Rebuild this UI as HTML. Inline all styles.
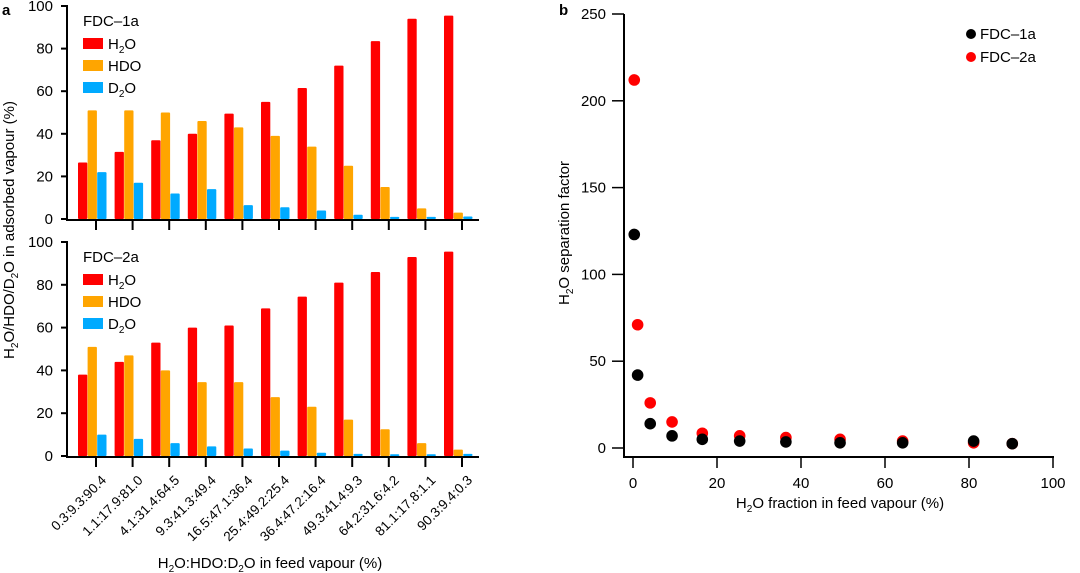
<!DOCTYPE html>
<html><head><meta charset="utf-8"><style>
body{margin:0;background:#fff;}
svg{display:block;font-family:"Liberation Sans",Arial,sans-serif;}
</style></head><body>
<svg id="chart" width="1080" height="573" viewBox="0 0 1080 573" xmlns="http://www.w3.org/2000/svg">
<g id="pa"></g>
<g id="pb"></g>
</svg>
<script>
const categories=["0.3:9.3:90.4","1.1:17.9:81.0","4.1:31.4:64.5","9.3:41.3:49.4","16.5:47.1:36.4","25.4:49.2:25.4","36.4:47.2:16.4","49.3:41.4:9.3","64.2:31.6:4.2","81.1:17.8:1.1","90.3:9.4:0.3"];
const h2o1=[26.5,31.5,37,40,49.5,55,61.5,72,83.5,94,95.5];
const hdo1=[51,51,50,46,43,39,34,25,15,5,3];
const d2o1=[22,17,12,14,6.5,5.5,4,2,1,1,1.2];
const h2o2=[38,44,53,60,61,69,74.5,81,86,93,95.5];
const hdo2=[51,47,40,34.5,34.5,27.5,23,17,12.5,6,3];
const d2o2=[10,8,6,4.5,3.5,2.5,1.5,1,0.8,0.8,1];
const yTicksA=[0,20,40,60,80,100];
const feedX=[0.3,1.1,4.1,9.3,16.5,25.4,36.4,49.3,64.2,81.1,90.3];
const sf1=[123,42,14,7,5,4,3.5,3,3,4,2.5];
const sf2=[212,71,26,15,8.5,7,6,5,4,3,2.5];
const yTicksB=[0,50,100,150,200,250];
const xTicksB=[0,20,40,60,80,100];

const NS="http://www.w3.org/2000/svg";
function mk(p,tag,at,txt){const e=document.createElementNS(NS,tag);for(const k in at)e.setAttribute(k,at[k]);if(txt!==undefined)e.textContent=txt;p.appendChild(e);return e;}
const colors=["#ff0000","#ffa500","#00aaff"];

const pa=document.getElementById('pa');
const axisXA=67, tick0=96, tickStep=36.6;
const xCat=i=>tick0+i*tickStep;
function drawSub(top0,zero,series,name){
  const ys=v=>zero-(v/100)*(zero-top0);
  const g=mk(pa,'g',{});
  
  
  yTicksA.forEach(t=>{
    const l=mk(g,'line',{x1:axisXA-6,x2:axisXA,y1:ys(t),y2:ys(t),stroke:'#000','stroke-width':2});
    
    const tx=mk(g,'text',{x:axisXA-14,y:ys(t)+5,'text-anchor':'end','font-size':15},t);
    
  });
  series.forEach((s,si)=>{
    s.forEach((v,i)=>{
      const r=mk(g,'rect',{x:xCat(i)-18+si*9.6,y:ys(v),width:9.3,height:zero-ys(v),fill:colors[si],rx:1});
      
      
    });
  });
  mk(g,'line',{x1:axisXA,x2:axisXA,y1:top0-1,y2:zero+2,stroke:'#000','stroke-width':2});
  mk(g,'line',{x1:axisXA-1,x2:479,y1:zero+1,y2:zero+1,stroke:'#000','stroke-width':2});
  categories.forEach((c,i)=>{mk(g,'line',{x1:xCat(i),x2:xCat(i),y1:zero+1,y2:zero+11,stroke:'#000','stroke-width':2});});
  const lt=mk(g,'text',{x:83,y:top0+20,'font-size':15},name==='fdc-1a'?'FDC\u20131a':'FDC\u20132a');
  
  const labs=[['H','2','O'],['HDO'],['D','2','O']];
  labs.forEach((lb,k)=>{
    const y=top0+32+k*22;
    const r=mk(g,'rect',{x:83,y:y,width:20,height:11,fill:colors[k]});
    
    const t=mk(g,'text',{x:108,y:y+11,'font-size':15});
    
    if(lb.length===1)t.textContent=lb[0];else{mk(t,'tspan',{},lb[0]);mk(t,'tspan',{'font-size':10,dy:4},lb[1]);mk(t,'tspan',{dy:-4},lb[2]);}
  });
}
drawSub(6,219,[h2o1,hdo1,d2o1],'fdc-1a');
drawSub(242,456,[h2o2,hdo2,d2o2],'fdc-2a');
categories.forEach((c,i)=>{
  const ax=xCat(i)+11, ay=481;
  const t=mk(pa,'text',{x:ax,y:ay,'font-size':13.5,'text-anchor':'end',transform:`rotate(-45 ${ax} ${ay})`},c);
  
});
let t=mk(pa,'text',{x:270,y:568,'font-size':15,'text-anchor':'middle'});

mk(t,'tspan',{},'H');mk(t,'tspan',{'font-size':10,dy:4},'2');mk(t,'tspan',{dy:-4},'O:HDO:D');mk(t,'tspan',{'font-size':10,dy:4},'2');mk(t,'tspan',{dy:-4},'O in feed vapour (%)');
t=mk(pa,'text',{x:14,y:230,'font-size':15,'text-anchor':'middle',transform:'rotate(-90 14 230)'});

mk(t,'tspan',{},'H');mk(t,'tspan',{'font-size':10,dy:4},'2');mk(t,'tspan',{dy:-4},'O/HDO/D');mk(t,'tspan',{'font-size':10,dy:4},'2');mk(t,'tspan',{dy:-4},'O in adsorbed vapour (%)');
t=mk(pa,'text',{x:2,y:15,'font-size':15,'font-weight':'bold'},'a');


const pb=document.getElementById('pb');
const xs=v=>633+v*4.2, ysb=v=>448-v*434/250;
mk(pb,'line',{x1:624,x2:624,y1:14,y2:458,stroke:'#000','stroke-width':2});
mk(pb,'line',{x1:623,x2:1054,y1:457,y2:457,stroke:'#000','stroke-width':2});
yTicksB.forEach(v=>{
  mk(pb,'line',{x1:612,x2:624,y1:ysb(v),y2:ysb(v),stroke:'#000','stroke-width':1.5});
  const e=mk(pb,'text',{x:606,y:ysb(v)+5,'text-anchor':'end','font-size':15},v);
  
});
xTicksB.forEach(v=>{
  mk(pb,'line',{x1:xs(v),x2:xs(v),y1:457,y2:468,stroke:'#000','stroke-width':1.5});
  const e=mk(pb,'text',{x:xs(v),y:488,'text-anchor':'middle','font-size':15},v);
  
});
feedX.forEach((x,i)=>{
  const c=mk(pb,'circle',{cx:xs(x),cy:ysb(sf2[i]),r:5.8,fill:'#ff0000'});
  
});
feedX.forEach((x,i)=>{
  const c=mk(pb,'circle',{cx:xs(x),cy:ysb(sf1[i]),r:5.8,fill:'#000'});
  
});
[['#000','FDC\u20131a',34],['#ff0000','FDC\u20132a',57]].forEach(([col,lb,y])=>{
  const c=mk(pb,'circle',{cx:971,cy:y,r:5,fill:col});
  
  const e=mk(pb,'text',{x:980,y:y+5,'font-size':15},lb);
  
});
t=mk(pb,'text',{x:840,y:508,'font-size':15,'text-anchor':'middle'});

mk(t,'tspan',{},'H');mk(t,'tspan',{'font-size':10,dy:4},'2');mk(t,'tspan',{dy:-4},'O fraction in feed vapour (%)');
t=mk(pb,'text',{x:569,y:233,'font-size':15,'text-anchor':'middle',transform:'rotate(-90 569 233)'});

mk(t,'tspan',{},'H');mk(t,'tspan',{'font-size':10,dy:4},'2');mk(t,'tspan',{dy:-4},'O separation factor');
t=mk(pb,'text',{x:559,y:15,'font-size':15,'font-weight':'bold'},'b');

</script>
</body></html>
